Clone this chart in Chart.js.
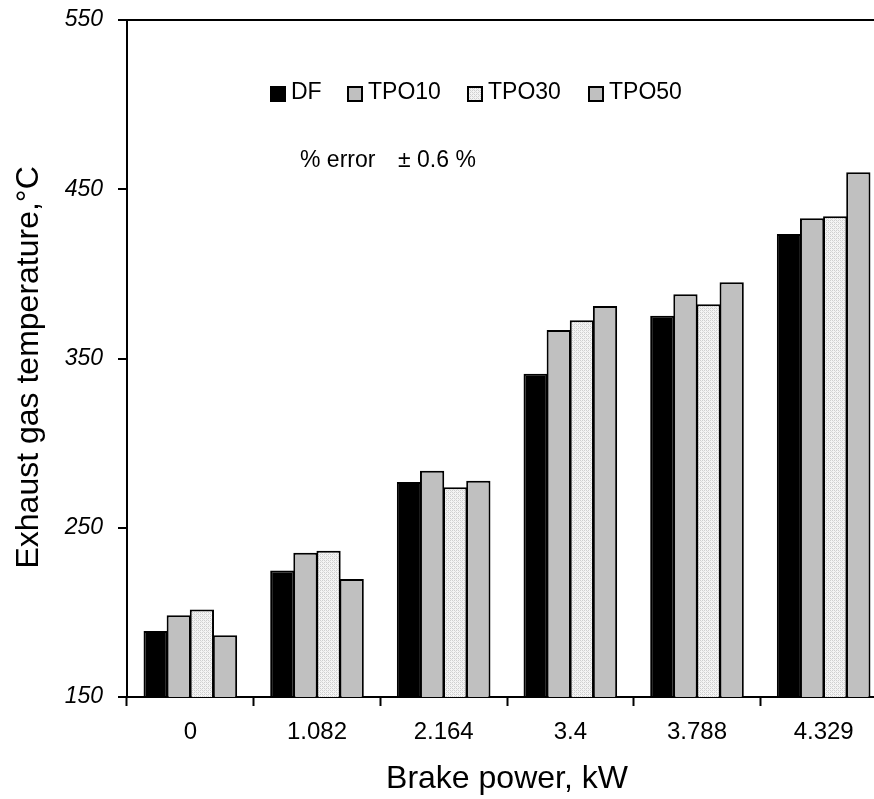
<!DOCTYPE html>
<html>
<head>
<meta charset="utf-8">
<script src="https://cdn.jsdelivr.net/npm/chart.js@4.4.1/dist/chart.umd.min.js"></script>
<style>
  html, body { margin: 0; padding: 0; background: #fff; overflow: hidden; }
  #wrap { width: 890px; height: 799px; }
</style>
</head>
<body>
<div id="wrap"><canvas id="myChart" width="890" height="799"></canvas></div>
<script>
const categories = ["0", "1.082", "2.164", "3.4", "3.788", "4.329"];
const seriesNames = ["DF", "TPO10", "TPO30", "TPO50"];
const dfValues = [189, 224.7, 277, 341, 375.3, 423.6];
const tpo10Values = [198.3, 235.3, 283.7, 366.8, 387.9, 432.8];
const tpo30Values = [201.7, 236.4, 274, 372.6, 382, 434];
const tpo50Values = [186.5, 219.7, 277.8, 381, 395, 460];
const yTicks = [150, 250, 350, 450, 550];

const FONT = "'Liberation Sans', Arial, Helvetica, sans-serif";

// light dotted fill used for TPO30
function dottedPattern() {
    const c = document.createElement("canvas");
    c.width = 4;
    c.height = 4;
    const g = c.getContext("2d");
    g.fillStyle = "#f4f4f4";
    g.fillRect(0, 0, 4, 4);
    g.fillStyle = "#cfcfcf";
    g.fillRect(0, 0, 1, 1);
    g.fillRect(2, 0, 1, 1);
    g.fillRect(0, 2, 1, 1);
    g.fillRect(2, 2, 1, 1);
    g.fillStyle = "#dedede";
    g.fillRect(1, 1, 1, 1);
    g.fillRect(3, 3, 1, 1);
    return document.getElementById("myChart").getContext("2d").createPattern(c, "repeat");
}

const pattern = dottedPattern();
const fills = ["#000000", "#c0c0c0", pattern, "#c0c0c0"];
const allValues = [dfValues, tpo10Values, tpo30Values, tpo50Values];

// legend and error note drawn inside the plot area
const legendX = [270, 347, 467, 588];
const insideLegend = {
    id: "insideLegend",
    afterDraw(chart) {
        const ctx = chart.ctx;
        ctx.save();
        ctx.font = "23px " + FONT;
        ctx.textBaseline = "middle";
        ctx.textAlign = "left";
        chart.data.datasets.forEach((ds, i) => {
            const x = legendX[i];
            ctx.fillStyle = ds.backgroundColor;
            ctx.fillRect(x, 86, 16, 16);
            ctx.lineWidth = 2;
            ctx.strokeStyle = "#000";
            ctx.strokeRect(x + 1, 87, 14, 14);
            ctx.fillStyle = "#000";
            ctx.fillText(ds.label, x + 21, 93);
        });
        ctx.fillText("% error", 300, 161);
        ctx.fillText("\u00b1 0.6 %", 398, 161);
        ctx.restore();
    }
};

new Chart(document.getElementById("myChart"), {
    type: "bar",
    data: {
        labels: categories,
        datasets: seriesNames.map((name, i) => ({
            label: name,
            data: allValues[i],
            backgroundColor: fills[i],
            borderColor: "#000",
            borderWidth: 2,
            borderSkipped: "bottom",
            barPercentage: 1.05,
            categoryPercentage: 0.73
        }))
    },
    options: {
        responsive: false,
        animation: false,
        devicePixelRatio: 1,
        layout: { padding: { top: 20, right: 3, left: 0, bottom: 0 } },
        plugins: {
            legend: { display: false },
            tooltip: { enabled: false },
            title: { display: false }
        },
        scales: {
            x: {
                offset: true,
                grid: {
                    drawOnChartArea: false,
                    drawTicks: true,
                    tickLength: 9,
                    tickColor: "#000",
                    tickWidth: 2,
                    offset: true
                },
                border: { display: true, color: "#000", width: 2 },
                ticks: {
                    color: "#000",
                    font: { family: FONT, size: 24 },
                    padding: 12,
                    maxRotation: 0
                },
                title: {
                    display: true,
                    text: "Brake power, kW",
                    color: "#000",
                    font: { family: FONT, size: 32 },
                    padding: { top: 0, bottom: 1 }
                },
                afterFit(scale) {
                    scale.height = 102;
                    scale.paddingLeft = 0;
                    scale.paddingRight = 0;
                }
            },
            y: {
                min: 150,
                max: 550,
                afterBuildTicks(scale) { scale.ticks = yTicks.map(v => ({ value: v })); },
                grid: {
                    color: c => (c.tick && c.tick.value === 550 ? "#000" : "rgba(0,0,0,0)"),
                    lineWidth: 2,
                    drawTicks: true,
                    tickLength: 9,
                    tickColor: "#000",
                    tickWidth: 2
                },
                border: { display: true, color: "#000", width: 2 },
                ticks: {
                    color: "#000",
                    font: { family: FONT, size: 23, style: "italic" },
                    padding: 15
                },
                title: {
                    display: true,
                    text: "Exhaust gas temperature,\u00b0C  ",
                    color: "#000",
                    font: { family: FONT, size: 32 },
                    padding: { top: 10, bottom: 0 }
                },
                afterFit(scale) {
                    scale.width = 127;
                    scale.paddingTop = 0;
                    scale.paddingBottom = 0;
                }
            }
        }
    },
    plugins: [insideLegend]
});
</script>
</body>
</html>
